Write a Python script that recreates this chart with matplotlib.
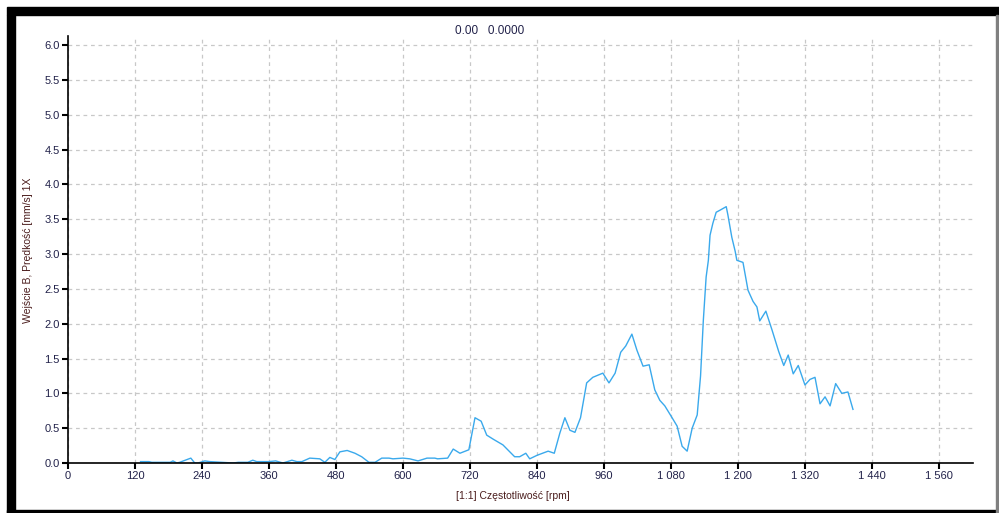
import matplotlib.pyplot as plt
from matplotlib.patches import Rectangle
from matplotlib.ticker import FuncFormatter, MultipleLocator

plt.rcParams['font.family'] = ['Liberation Sans', 'DejaVu Sans']

# odczyt z wykresu: prędkość obrotowa [rpm] i amplituda 1X [mm/s]
rpm = [130, 145, 150, 183, 188, 195, 200, 220, 227, 233, 245, 254, 296, 305,
       322, 331, 338, 360, 372, 385, 401, 410, 419, 433, 451, 460, 469, 478,
       487, 500, 514, 526, 539, 550, 562, 575, 582, 600, 612, 627, 643, 657,
       662, 680, 690, 702, 718, 729, 740, 750, 762, 779, 800, 809, 820, 827,
       840, 860, 871, 881, 890, 899, 908, 918, 929, 940, 958, 969, 980, 990,
       999, 1010, 1019, 1030, 1041, 1051, 1060, 1069, 1082, 1091, 1100, 1109,
       1118, 1127, 1133, 1138, 1143, 1147, 1150, 1155, 1161, 1168, 1179, 1182,
       1189, 1195, 1198, 1209, 1218, 1227, 1234, 1239, 1250, 1261, 1273, 1282,
       1290, 1299, 1308, 1320, 1329, 1338, 1347, 1356, 1365, 1375, 1386, 1397,
       1406]
velocity = [0.02, 0.02, 0.01, 0.01, 0.03, 0.00, 0.01, 0.07, 0.00, 0.00, 0.03,
            0.02, 0.00, 0.01, 0.01, 0.04, 0.02, 0.02, 0.03, 0.00, 0.04, 0.02,
            0.02, 0.07, 0.06, 0.01, 0.08, 0.05, 0.16, 0.18, 0.14, 0.09, 0.01,
            0.01, 0.07, 0.07, 0.06, 0.07, 0.06, 0.03, 0.07, 0.07, 0.06, 0.07,
            0.20, 0.14, 0.19, 0.65, 0.60, 0.40, 0.34, 0.26, 0.09, 0.09, 0.14,
            0.06, 0.11, 0.17, 0.14, 0.43, 0.65, 0.47, 0.44, 0.65, 1.15, 1.23,
            1.29, 1.15, 1.29, 1.59, 1.68, 1.85, 1.62, 1.39, 1.41, 1.05, 0.90,
            0.82, 0.65, 0.53, 0.24, 0.17, 0.50, 0.69, 1.25, 2.05, 2.67, 2.91,
            3.27, 3.44, 3.60, 3.63, 3.68, 3.56, 3.24, 3.04, 2.91, 2.88, 2.48,
            2.32, 2.24, 2.04, 2.18, 1.91, 1.60, 1.40, 1.55, 1.28, 1.40, 1.12,
            1.20, 1.23, 0.85, 0.95, 0.82, 1.14, 1.00, 1.02, 0.77]

x_ticks = [0, 120, 240, 360, 480, 600, 720, 840, 960, 1080, 1200, 1320, 1440, 1560]

W, H = 999, 513
fig = plt.figure(figsize=(W / 100, H / 100), dpi=100)
fig.patch.set_facecolor('white')

# ramka okna
fig.patches.append(Rectangle((7 / W, 1 - 15 / H), 1 - 7 / W, 8 / H,
                             transform=fig.transFigure, color='black'))
fig.patches.append(Rectangle((7 / W, 0), 8 / W, 1 - 15 / H,
                             transform=fig.transFigure, color='black'))
fig.patches.append(Rectangle((7 / W, 0), 1 - 7 / W, 3 / H,
                             transform=fig.transFigure, color='black'))
fig.patches.append(Rectangle((996 / W, 0), 2 / W, 1 - 15 / H,
                             transform=fig.transFigure, color='#808080'))

ax = fig.add_axes([68 / W, (H - 463) / H, (973 - 68) / W, (463 - 36) / H])
ax.plot(rpm, velocity, color='#3aa9ec', linewidth=1.0)

ax.set_xlim(0, 1621)
ax.set_ylim(0, 6.13)
ax.set_xticks(x_ticks)
ax.xaxis.set_major_formatter(
    FuncFormatter(lambda v, p: f"{int(v):,}".replace(",", " ")))
ax.yaxis.set_major_locator(MultipleLocator(0.5))
ax.yaxis.set_major_formatter(FuncFormatter(lambda v, p: f"{v:.1f}"))

ax.grid(True, color='#c8c8c8', linestyle=(0, (3, 3)), linewidth=0.9)
ax.set_axisbelow(True)
for side in ['top', 'right']:
    ax.spines[side].set_visible(False)
for side in ['left', 'bottom']:
    ax.spines[side].set_linewidth(1.2)
    ax.spines[side].set_color('black')

ax.tick_params(axis='both', length=4, width=1.5, color='black',
               labelsize=8, labelcolor='#22224a', pad=2)

fig.text(490 / W, 1 - 31 / H, "0.00   0.0000", ha='center', va='center',
         fontsize=8.5, color='#22224a')
fig.text(513 / W, 1 - 496 / H, "[1:1] Częstotliwość [rpm]", ha='center',
         va='center', fontsize=7.5, color='#4a1c1c')
fig.text(28 / W, 1 - 250 / H, "Wejście B, Prędkość [mm/s] 1X", ha='center',
         va='center', rotation=90, fontsize=7.5, color='#4a1c1c')

fig.savefig('out.png', dpi=100)
